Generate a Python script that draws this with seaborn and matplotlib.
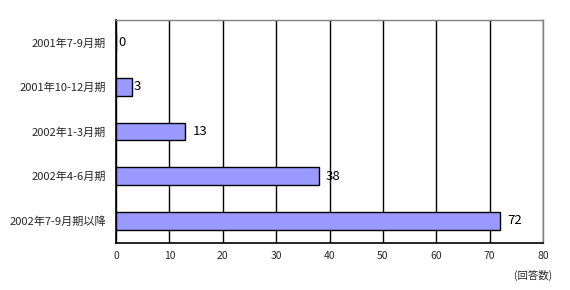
import matplotlib
matplotlib.use("Agg")
import matplotlib.pyplot as plt
import seaborn as sns
import pandas as pd
import numpy as np

categories = ["2001年7-9月期", "2001年10-12月期", "2002年1-3月期", "2002年4-6月期", "2002年7-9月期以降"]
values = [0, 3, 13, 38, 72]
xticks = [0, 10, 20, 30, 40, 50, 60, 70, 80]
unit_label = "(回答数)"

sns.set_theme(style="white")
plt.rcParams['font.family'] = ['Noto Sans CJK JP', 'DejaVu Sans']

df = pd.DataFrame({"cat": categories, "val": values})

fig = plt.figure(figsize=(5.7, 2.9), dpi=100)
ax = fig.add_axes([116/570, 1-243/290, (543-116)/570, (243-20)/290])

sns.barplot(data=df, y="cat", x="val", orient="h", color="#9999FF",
            edgecolor="black", linewidth=1.0, width=0.4, saturation=1, ax=ax, zorder=3)

ax.set_xlim(0, 80)
ax.set_ylim(len(categories) - 0.5, -0.5)
ax.set_xticks(xticks)
ax.set_xticklabels([str(t) for t in xticks], fontsize=7.5)
ax.tick_params(axis="x", length=0, pad=6)
ax.tick_params(axis="y", which="major", length=0, pad=7, labelsize=8)
ax.set_yticks(np.arange(0.5, len(categories) - 1, 1.0), minor=True)
ax.tick_params(axis="y", which="minor", direction="in", length=3, width=1, color="black")
ax.set_xlabel("")
ax.set_ylabel("")

ax.xaxis.grid(True, color="black", linewidth=1.0, zorder=0)
ax.yaxis.grid(False)
ax.set_axisbelow(True)

for s in ["left", "bottom"]:
    ax.spines[s].set_color("black")
    ax.spines[s].set_linewidth(1.2)
for s in ["top", "right"]:
    ax.spines[s].set_color("#808080")
    ax.spines[s].set_linewidth(1.0)

for i, v in enumerate(values):
    ax.annotate(str(v), xy=(v, i), xytext=(1.5 if v < 10 else 5, 0), textcoords="offset points",
                va="center", ha="left", fontsize=9.5, color="black")

fig.text(552/570, 1-275/290, unit_label, ha="right", va="center", fontsize=7.5)

fig.savefig("out.png", dpi=100, facecolor="white")
